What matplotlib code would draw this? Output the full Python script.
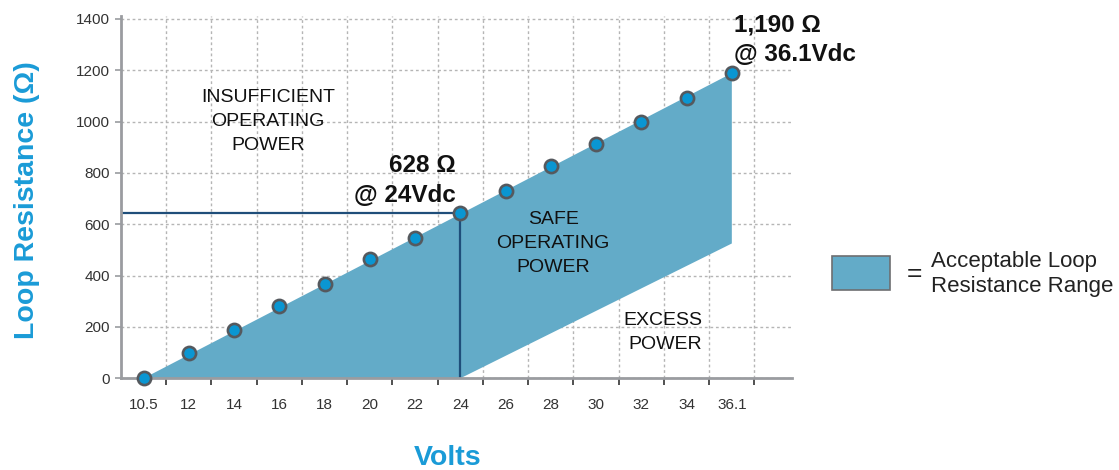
import matplotlib
matplotlib.use("Agg")
import matplotlib.pyplot as plt
from matplotlib.patches import Rectangle

plt.rcParams['font.family'] = ['Liberation Sans', 'DejaVu Sans']

# ---- data ----
volts = ['10.5', '12', '14', '16', '18', '20', '22', '24', '26', '28', '30', '32', '34', '36.1']
resistance = [0, 97, 189, 283, 368, 464, 546, 642, 731, 826, 913, 999, 1091, 1188]
safe_lower_start_volt = '24'
safe_lower_end_value = 525
yticks = [0, 200, 400, 600, 800, 1000, 1200, 1400]

FILL = '#63abc8'
BLUE = '#1a9bd7'
DARK = '#1f4e7a'
GRAY = '#9a9ca0'

fig = plt.figure(figsize=(11.19, 4.70), dpi=100)
ax = fig.add_axes([121 / 1119, 1 - 378.3 / 470, (792 - 121) / 1119, (378.3 - 15.7) / 470])

x = list(range(len(volts)))
i24 = volts.index(safe_lower_start_volt)
last = len(volts) - 1

# safe region polygon
poly_x = [x[0], x[last], x[last], x[i24]]
poly_y = [resistance[0], resistance[last], safe_lower_end_value, 0]
ax.fill(poly_x, poly_y, color=FILL, lw=0, zorder=1)

# reference lines at 24 V
ax.plot([-0.5, x[i24]], [resistance[i24], resistance[i24]], color=DARK, lw=1.6, zorder=2)
ax.plot([x[i24], x[i24]], [0, resistance[i24]], color=DARK, lw=1.6, zorder=2)

# points
ax.plot(x, resistance, 'o', ms=9.5, mfc='#0a96d2', mec='#55595e', mew=1.9,
        ls='none', zorder=4, clip_on=False)

ax.set_xlim(-0.5, 14.33)
ax.set_ylim(0, 1412)

ax.set_xticks(x)
ax.set_xticklabels(volts)
ax.set_xticks([i + 0.5 for i in x], minor=True)
ax.tick_params(axis='x', which='major', length=0, pad=14, labelsize=11, labelcolor='#333333')
ax.tick_params(axis='x', which='minor', length=5, width=1.2, color='#333333')
ax.set_yticks(yticks)
ax.tick_params(axis='y', length=4, width=1.2, color=GRAY, labelsize=11, labelcolor='#333333', pad=4)

ax.set_axisbelow(True)
ax.grid(axis='y', which='major', color='#b5b5b5', ls=(0, (2, 2)), lw=1)
ax.grid(axis='x', which='minor', color='#b5b5b5', ls=(0, (2, 2)), lw=1)

for s in ['top', 'right']:
    ax.spines[s].set_visible(False)
for s in ['left', 'bottom']:
    ax.spines[s].set_color(GRAY)
    ax.spines[s].set_linewidth(2)

# region labels
ax.text(2.75, 1000, 'INSUFFICIENT\nOPERATING\nPOWER', ha='center', va='center',
        fontsize=14, linespacing=1.55, color='#111111')
ax.text(9.05, 525, 'SAFE\nOPERATING\nPOWER', ha='center', va='center',
        fontsize=14, linespacing=1.55, color='#111111')
ax.text(12.35, 178, 'EXCESS\nPOWER', ha='right', va='center', multialignment='right',
        fontsize=14, linespacing=1.55, color='#111111')

# callouts
ax.text(6.9, 770, '628 \u03a9\n@ 24Vdc', ha='right', va='center', multialignment='right',
        fontsize=17.5, fontweight='bold', linespacing=1.38, color='#111111')
ax.text(13.05, 1318, '1,190 \u03a9\n@ 36.1Vdc', ha='left', va='center', multialignment='left',
        fontsize=17.5, fontweight='bold', linespacing=1.38, color='#111111', clip_on=False)

# axis titles
fig.text(27 / 1119, 1 - 200 / 470, 'Loop Resistance (\u03a9)', rotation=90, ha='center', va='center',
         fontsize=20.5, fontweight='bold', color=BLUE)
fig.text(448 / 1119, 1 - 458 / 470, 'Volts', ha='center', va='center',
         fontsize=20.5, fontweight='bold', color=BLUE)

# legend
fig.patches.append(Rectangle((832 / 1119, 1 - 290 / 470), 58 / 1119, 34 / 470,
                             transform=fig.transFigure, facecolor=FILL, edgecolor='#6d6e71', lw=1.2))
fig.text(914 / 1119, 1 - 274 / 470, '=', ha='center', va='center', fontsize=19, color='#222222')
fig.text(931 / 1119, 1 - 274 / 470, 'Acceptable Loop\nResistance Range', ha='left', va='center',
         fontsize=16, linespacing=1.2, color='#222222')

fig.savefig('out.png', dpi=100)
